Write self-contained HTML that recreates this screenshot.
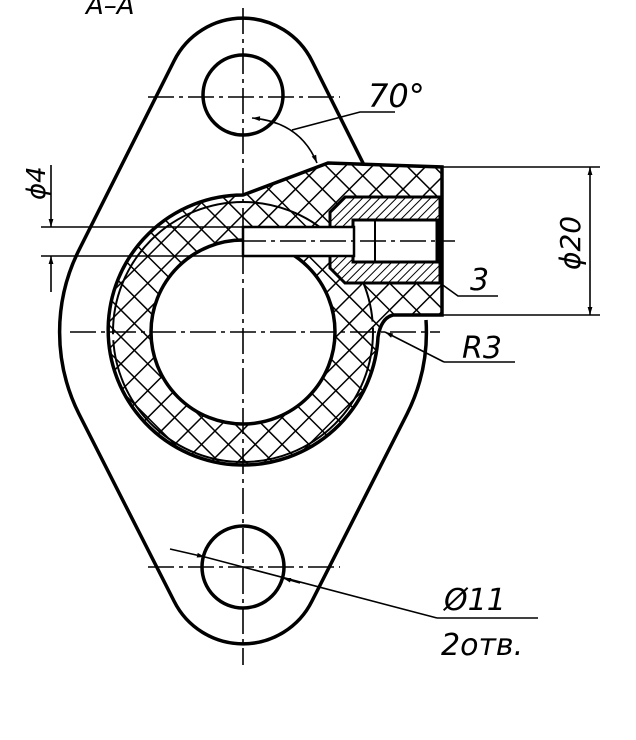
<!DOCTYPE html>
<html><head><meta charset="utf-8"><style>
html,body{margin:0;padding:0;background:#fff;width:636px;height:740px;overflow:hidden}
text{font-family:"DejaVu Sans","Liberation Sans",sans-serif;font-style:italic;fill:#000}
</style></head><body>
<svg width="636" height="740" viewBox="0 0 636 740" xmlns="http://www.w3.org/2000/svg">
<defs>
<pattern id="cross" width="19" height="19" patternUnits="userSpaceOnUse" patternTransform="rotate(45)">
<rect width="19" height="19" fill="#fff"/>
<line x1="0" y1="0" x2="0" y2="19" stroke="#000" stroke-width="3"/>
<line x1="0" y1="0" x2="19" y2="0" stroke="#000" stroke-width="3"/>
</pattern>
<pattern id="diag" width="6" height="6" patternUnits="userSpaceOnUse" patternTransform="rotate(45)">
<rect width="6" height="6" fill="#fff"/>
<line x1="0" y1="0" x2="0" y2="6" stroke="#000" stroke-width="2"/>
</pattern>
<marker id="ar" viewBox="0 0 10 10" refX="10" refY="5" markerWidth="12" markerHeight="8" markerUnits="userSpaceOnUse" orient="auto-start-reverse">
<path d="M0,2 L10,5 L0,8 z" fill="#000"/>
</marker>
</defs>

<!-- flange outline -->
<path d="M364,165 L312,61 A77,77 0 0 0 174,61 L79,250 A183,183 0 0 0 79,414 L174,601 A77,77 0 0 0 312,601 L407,414 A183,183 0 0 0 426,320" fill="none" stroke="#000" stroke-width="3.5"/>

<!-- holes -->
<circle cx="243" cy="95" r="40" fill="none" stroke="#000" stroke-width="3.5"/>
<circle cx="243" cy="567" r="41" fill="none" stroke="#000" stroke-width="3.5"/>

<!-- hatched body -->
<path fill-rule="evenodd" fill="url(#cross)" stroke="#000" stroke-width="3.5"
 d="M243,195 L328,163 L442,167 L442,315 L393,315 Q381,318 378,337 A135,135 0 1 1 243,195 Z M335,332 A92,92 0 1 0 151,332 A92,92 0 1 0 335,332 Z"/>
<!-- inner ring line -->
<circle cx="243" cy="332" r="130" fill="none" stroke="#000" stroke-width="2" stroke-dasharray="400 6"/>

<!-- insert -->
<path d="M330,212 L345,197 L440,197 L440,283 L345,283 L330,268 Z" fill="url(#diag)" stroke="#000" stroke-width="3"/>
<rect x="353" y="220" width="84" height="42" fill="#fff" stroke="#000" stroke-width="3"/>
<line x1="375" y1="220" x2="375" y2="262" stroke="#000" stroke-width="2"/>
<!-- channel -->
<rect x="243" y="227" width="111" height="29" fill="#fff" stroke="#000" stroke-width="2.5"/>

<!-- center lines -->
<g stroke="#000" stroke-width="1.6" stroke-dasharray="26 5 4 5" fill="none">
<line x1="243" y1="8" x2="243" y2="665"/>
<line x1="70" y1="332" x2="440" y2="332"/>
<line x1="148" y1="97" x2="340" y2="97"/>
<line x1="148" y1="567" x2="340" y2="567"/>
<line x1="240" y1="241" x2="455" y2="241"/>
</g>

<g stroke="#000" stroke-width="1.6" fill="none">
<line x1="41" y1="227" x2="243" y2="227"/>
<line x1="41" y1="256" x2="243" y2="256"/>
<line x1="51" y1="165" x2="51" y2="227" marker-end="url(#ar)"/>
<line x1="51" y1="292" x2="51" y2="256" marker-end="url(#ar)"/>
<line x1="442" y1="167" x2="600" y2="167"/>
<line x1="442" y1="315" x2="600" y2="315"/>
<line x1="590" y1="240" x2="590" y2="167" marker-end="url(#ar)"/>
<line x1="590" y1="240" x2="590" y2="315" marker-end="url(#ar)"/>
<path d="M252,118 Q300,122 317,163" marker-start="url(#ar)" marker-end="url(#ar)"/>
<polyline points="292,130 360,112 395,112"/>
<polyline points="440,283 458,296 498,296"/>
<line x1="444" y1="362" x2="385" y2="332" marker-end="url(#ar)"/>
<line x1="444" y1="362" x2="515" y2="362"/>
<line x1="170" y1="549" x2="205" y2="557" marker-end="url(#ar)"/>
<line x1="205" y1="557" x2="437" y2="618"/>
<line x1="300" y1="583" x2="283" y2="578" marker-end="url(#ar)"/>
<line x1="437" y1="618" x2="538" y2="618"/>
</g>

<text x="86" y="14" font-size="26">A–A</text>
<text x="368" y="107" font-size="32">70°</text>
<text x="470" y="290" font-size="30">3</text>
<text x="462" y="358" font-size="30">R3</text>
<text x="444" y="610" font-size="30">Ø11</text>
<text x="441" y="655" font-size="30">2отв.</text>
<text transform="translate(45,200) rotate(-90)" font-size="26">ϕ4</text>
<text transform="translate(580,270) rotate(-90)" font-size="28">ϕ20</text>
</svg>
</body></html>
